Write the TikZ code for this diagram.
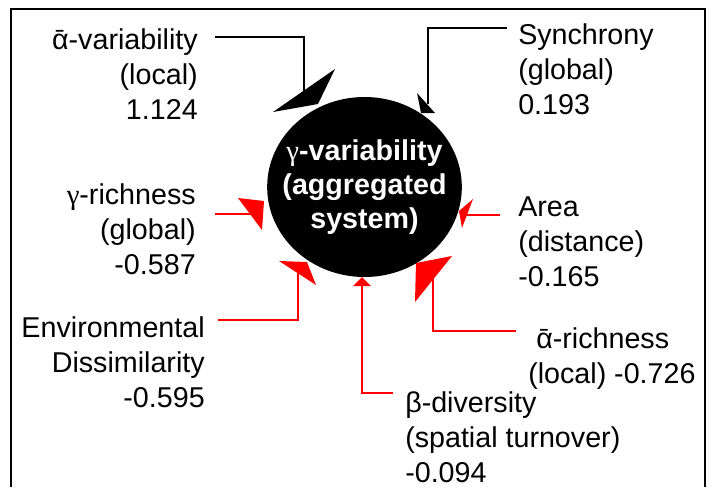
\documentclass[tikz,border=0pt]{standalone}
\usepackage{fontspec}
\setmainfont{Liberation Sans}
\newfontfamily\gfont{Liberation Serif}
\usetikzlibrary{shapes.geometric}

\tikzstyle{lab} = [inner sep=0pt, font=\fontsize{21.5}{26.25}\selectfont]
\tikzstyle{hub} = [ellipse, fill=black, text=white, inner xsep=-12pt, inner ysep=0pt, minimum width=146pt, minimum height=135pt, align=center, font=\fontsize{21.5}{25.5}\selectfont\bfseries]
\tikzstyle{blkline} = [line width=1.5pt, black]
\tikzstyle{redline} = [line width=2pt, red]
\tikzstyle{blkhead} = [fill=black]
\tikzstyle{redhead} = [fill=red]

\begin{document}
\begin{tikzpicture}[x=0.75pt, y=-0.75pt]
	\useasboundingbox (0,0) rectangle (711,487);
	\draw [line width=1.1pt] (11,487) |- (705,9) -- (705,487);
	
	\node (gv) [hub] at (364.5,187) {{\gfont\mdseries γ}-variability\\(aggregated\\system)};
	
	\node (va) [lab, anchor=north east, align=right] at (198,28) {ᾱ-variability\\(local)\\1.124};
	\node (sy) [lab, anchor=north west, align=left] at (518,23) {Synchrony\\(global)\\0.193};
	\node (gr) [lab, anchor=north east, align=right] at (196,183) {{\gfont γ}-richness\\(global)\\-0.587};
	\node (ar) [lab, anchor=north west, align=left] at (518,197) {Area\\(distance)\\-0.165};
	\node (ed) [lab, anchor=north east, align=right] at (205,316) {Environmental\\Dissimilarity\\-0.595};
	\node (bd) [lab, anchor=north west, align=left] at (405,391) {β-diversity\\(spatial turnover)\\-0.094};
	\node (lr) [lab, anchor=north west, align=left] at (528,327) {\hspace*{6pt}ᾱ-richness\\(local) -0.726};
	
	% arrow ends next to the hub
	\coordinate (tA) at (304,92);
	\coordinate (tB) at (428,104);
	\coordinate (tC) at (253,214);
	\coordinate (tD) at (465,215);
	\coordinate (tE) at (298,270);
	\coordinate (tF) at (362,286);
	\coordinate (tG) at (433,278);
	
	\draw [blkline] (va.north east) ++(17,9) -| (tA);
	\draw [blkline] (sy.north west) ++(-11,5) -| (tB);
	\draw [redline] (gr.north east) ++(19,31) -- (tC);
	\draw [redline] (ar.north west) ++(-18,18) -- (tD);
	\draw [redline] (ed.north east) ++(13,4) -| (tE);
	\draw [redline] (bd.north west) ++(-12,2) -| (tF);
	\draw [redline] (lr.north west) ++(-12,4) -| (tG);
	
	% heads
	\fill [blkhead, shift={(tA)}] (31,-23) -- (-31,20) -- (14,12) -- cycle;
	\fill [blkhead, shift={(tB)}] (-11,-11) -- (7,9) -- (-7,9) -- cycle;
	\fill [redhead, shift={(tC)}] (-15,-16) -- (11,-13) -- (9,16) -- cycle;
	\fill [redhead, shift={(tD)}] (8,-16) -- (-6,-4) -- (-3,13) -- cycle;
	\fill [redhead, shift={(tE)}] (-19,-9) -- (9,-8) -- (18,15) -- cycle;
	\fill [redhead, shift={(tF)}] (0,-9) -- (-9,0) -- (9,0) -- cycle;
	\fill [redhead, shift={(tG)}] (-17,-15) -- (19,-22) -- (-18,24) -- cycle;
\end{tikzpicture}
\end{document}
